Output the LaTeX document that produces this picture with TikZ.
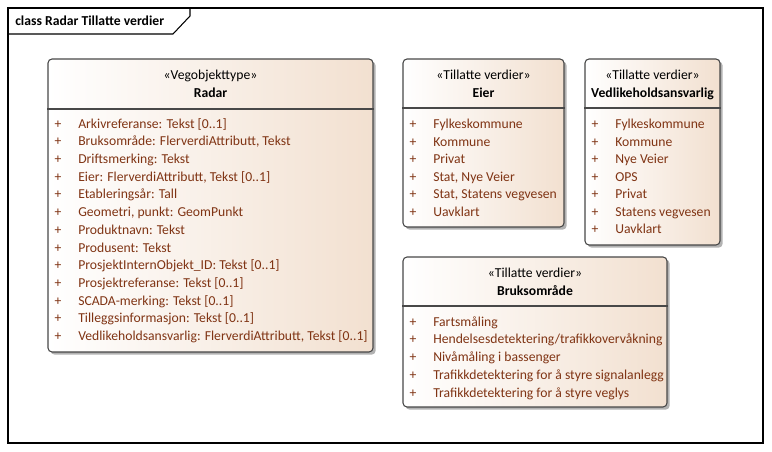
\documentclass[tikz,border=0pt]{standalone}
\usepackage{fontspec}
\setmainfont{Carlito}
\usetikzlibrary{fit,shadows}
\definecolor{attr}{RGB}{128,52,20}
\definecolor{peach}{RGB}{242,224,208}
\definecolor{edge}{RGB}{72,72,72}
\newcommand{\umlfont}{\fontsize{10.25}{12}\selectfont}
\tikzset{
  x=0.75pt, y=-0.75pt,
  diagramframe/.style={draw=black, line width=1.1pt, inner sep=0pt},
  tabline/.style={draw=black, line width=0.8pt},
  classbox/.style={draw=edge, line width=0.8pt, rounded corners=3pt,
    left color=white, right color=peach, inner sep=0pt,
    drop shadow={shadow xshift=2pt, shadow yshift=-2pt, fill=black, opacity=0.3}},
  divider/.style={draw=edge, line width=0.8pt},
  stereo/.style={font=\umlfont, inner sep=0pt, anchor=mid},
  cname/.style={font=\umlfont\bfseries, inner sep=0pt, anchor=mid},
  attrplus/.style={font=\umlfont, text=attr, inner sep=0pt, anchor=mid},
  attrtext/.style={font=\umlfont, text=attr, inner sep=0pt, anchor=mid west},
  titletext/.style={font=\umlfont\bfseries, inner sep=0pt, anchor=mid west},
}
\begin{document}
\begin{tikzpicture}
\useasboundingbox (0,0) rectangle (772,452);

% diagram frame with name tab
\node[diagramframe, fit={(8,8) (763,443)}] (frame) {};
\coordinate (tabA) at (8,34);
\coordinate (tabB) at (173,34);
\coordinate (tabC) at (190,16);
\coordinate (tabD) at (190,8);
\draw[tabline] (tabA) -- (tabB) -- (tabC) -- (tabD);
\node[titletext] (title) at (15,22) {class Radar Tillatte verdier};

% class Radar
\node[classbox, fit={(48,59) (373,352)}] (radar) {};
\draw[divider] (radar.west |- 0,109) -- (radar.east |- 0,109);
\node[stereo] (radar-st) at (210.5,76) {«Vegobjekttype»};
\node[cname] (radar-nm) at (210.5,94) {Radar};
\foreach \t [count=\i from 0] in {
  {Arkivreferanse: Tekst [0..1]},
  {Bruksområde: FlerverdiAttributt, Tekst},
  {Driftsmerking: Tekst},
  {Eier: FlerverdiAttributt, Tekst [0..1]},
  {Etableringsår: Tall},
  {Geometri, punkt: GeomPunkt},
  {Produktnavn: Tekst},
  {Produsent: Tekst},
  {ProsjektInternObjekt\_ID: Tekst [0..1]},
  {Prosjektreferanse: Tekst [0..1]},
  {SCADA-merking: Tekst [0..1]},
  {Tilleggsinformasjon: Tekst [0..1]},
  {Vedlikeholdsansvarlig: FlerverdiAttributt, Tekst [0..1]}} {
  \node[attrplus] (radar-p\i) at (58,125+17.7*\i) {+};
  \node[attrtext] (radar-a\i) at (78,125+17.7*\i) {\t};
}

% enumeration Eier
\node[classbox, fit={(403,59) (564,227)}] (eier) {};
\draw[divider] (eier.west |- 0,108) -- (eier.east |- 0,108);
\node[stereo] (eier-st) at (483.5,76.5) {«Tillatte verdier»};
\node[cname] (eier-nm) at (483.5,94.5) {Eier};
\foreach \t [count=\i from 0] in {
  Fylkeskommune, Kommune, Privat, {Stat, Nye Veier},
  {Stat, Statens vegvesen}, Uavklart} {
  \node[attrplus] (eier-p\i) at (413,125.5+17.5*\i) {+};
  \node[attrtext] (eier-a\i) at (433,125.5+17.5*\i) {\t};
}

% enumeration Vedlikeholdsansvarlig
\node[classbox, fit={(585,59) (720,245)}] (vedl) {};
\draw[divider] (vedl.west |- 0,108) -- (vedl.east |- 0,108);
\node[stereo] (vedl-st) at (652.5,76.5) {«Tillatte verdier»};
\node[cname] (vedl-nm) at (652.5,94.5) {Vedlikeholdsansvarlig};
\foreach \t [count=\i from 0] in {
  Fylkeskommune, Kommune, Nye Veier, OPS, Privat,
  Statens vegvesen, Uavklart} {
  \node[attrplus] (vedl-p\i) at (595,125.5+17.5*\i) {+};
  \node[attrtext] (vedl-a\i) at (615,125.5+17.5*\i) {\t};
}

% enumeration Bruksområde
\node[classbox, fit={(403,257) (667,407)}] (bruk) {};
\draw[divider] (bruk.west |- 0,306) -- (bruk.east |- 0,306);
\node[stereo] (bruk-st) at (535,274) {«Tillatte verdier»};
\node[cname] (bruk-nm) at (535,292) {Bruksområde};
\foreach \t [count=\i from 0] in {
  Fartsmåling,
  Hendelsesdetektering/trafikkovervåkning,
  Nivåmåling i bassenger,
  Trafikkdetektering for å styre signalanlegg,
  Trafikkdetektering for å styre veglys} {
  \node[attrplus] (bruk-p\i) at (413,323+17.75*\i) {+};
  \node[attrtext] (bruk-a\i) at (433,323+17.75*\i) {\t};
}
\end{tikzpicture}
\end{document}
